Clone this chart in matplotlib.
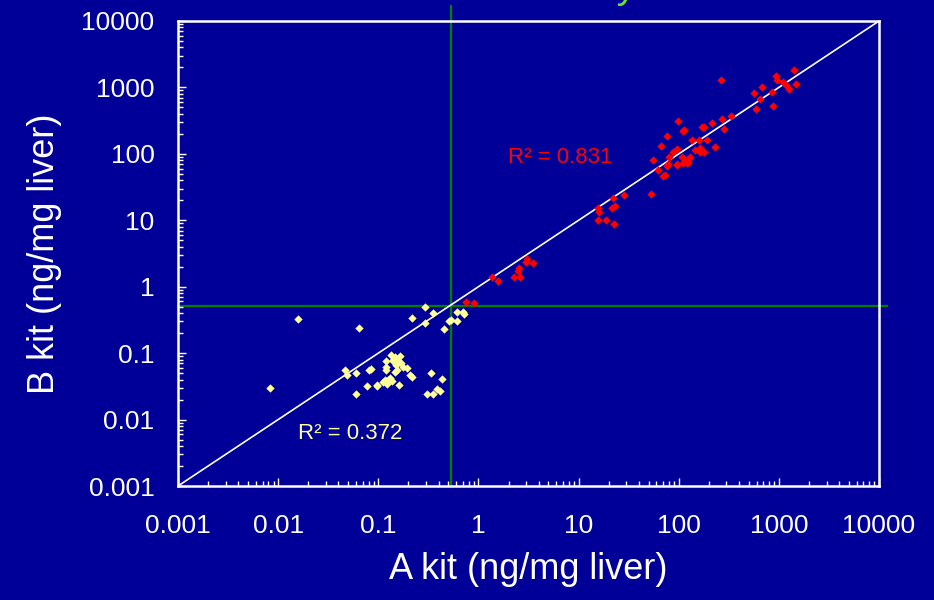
import matplotlib
matplotlib.use("Agg")
import matplotlib.pyplot as plt
from matplotlib.ticker import LogLocator, FixedLocator, FuncFormatter, NullFormatter
import numpy as np

plt.rcParams['font.family'] = ['Liberation Sans', 'DejaVu Sans']

# low range samples (yellow)
low_a = [0.0083, 0.0157, 0.064, 0.047, 0.049, 0.060, 0.060, 0.081, 0.084, 0.077, 0.096,
         0.119, 0.119, 0.119, 0.135, 0.147, 0.139, 0.158, 0.150, 0.170, 0.178, 0.193,
         0.153, 0.147, 0.117, 0.126, 0.131, 0.136, 0.096, 0.162, 0.216, 0.207, 0.165,
         0.112, 0.123, 0.141,
         0.333, 0.435, 0.309, 0.355, 0.39, 0.41, 0.216, 0.293, 0.293, 0.355, 0.453,
         0.513, 0.534, 0.615, 0.697, 0.723, 0.607]
low_b = [0.030, 0.323, 0.24, 0.056, 0.047, 0.050, 0.0245, 0.056, 0.058, 0.032, 0.032,
         0.076, 0.0625, 0.0557, 0.0937, 0.0886, 0.076, 0.076, 0.0664, 0.0703, 0.0625, 0.0593,
         0.0557, 0.0526, 0.0394, 0.0394, 0.0418, 0.0381, 0.0331, 0.0331, 0.0443, 0.0469, 0.0916,
         0.0372, 0.0343, 0.0789,
         0.05, 0.041, 0.0245, 0.0245, 0.0288, 0.027, 0.342, 0.49, 0.281, 0.398, 0.229,
         0.305, 0.32, 0.412, 0.421, 0.385, 0.308]

# high range samples (red)
high_a = [0.746, 0.904, 1.36, 1.58, 2.29, 2.54, 2.6, 2.5, 2.97, 3.03, 3.48,
          15.7, 16.1, 15.7, 18.7, 22.8, 21.4, 22.2, 23.1, 28.6, 52.5,
          55.8, 62.7, 69.2, 72.9, 66.5, 75.9, 75.9, 77.6, 80, 88.5, 95.5, 95.5, 99.1,
          111, 114, 107, 116, 125, 111, 120, 96.8, 130, 135, 146, 161, 163, 180, 163,
          172, 179, 190, 217, 230, 264, 272, 283, 333,
          569, 592, 675, 649, 849, 881, 937, 952, 1110, 1180, 1274, 1416, 1472]
high_b = [0.596, 0.575, 1.42, 1.22, 1.42, 1.89, 1.42, 1.73, 2.38, 2.59, 2.25,
          15.1, 13.5, 10.1, 10.1, 8.7, 15.1, 21.4, 16.6, 24.0, 24.9,
          80.9, 57.1, 46.5, 48.1, 133, 187, 65.6, 70.3, 90.6, 108, 117, 67.9, 315,
          221, 228, 90.6, 80.9, 76.2, 72.1, 72.1, 69.6, 90.6, 162, 114, 162, 108, 108, 121,
          256, 256, 162, 288, 126, 1294, 331, 234, 372,
          817, 469, 1004, 662, 863, 525, 1503, 1294, 1222, 1090, 946, 1829, 1114]

cutoff_a = 0.53
cutoff_b = 0.51
ticks = [0.001, 0.01, 0.1, 1, 10, 100, 1000, 10000]

bg = '#000099'
yellow = '#ffff99'
red = '#ff0000'

fig = plt.figure(figsize=(9.34, 6.0), dpi=100, facecolor=bg)
ax = fig.add_axes([178 / 934, 1 - 486 / 600, (879 - 178) / 934, (486 - 21) / 600])
ax.set_facecolor(bg)
ax.set_xscale('log')
ax.set_yscale('log')
ax.set_xlim(0.001, 10000)
ax.set_ylim(0.001, 10000)

ax.plot([0.001, 10000], [0.001, 10000], color='white', lw=1.2, zorder=2)
ax.plot([cutoff_a, cutoff_a], [0.001, 17000], color='#008000', lw=1.6, clip_on=False, zorder=1)
ax.plot([0.001, 12000], [cutoff_b, cutoff_b], color='#008000', lw=1.6, clip_on=False, zorder=1)

ax.scatter(low_a, low_b, marker='D', s=18, color=yellow, linewidths=0, zorder=3)
ax.scatter(high_a, high_b, marker='D', s=18, color=red, linewidths=0, zorder=3)

ax.text(0.0158, 0.0051, 'R² = 0.372', color=yellow, fontsize=16, va='baseline')
ax.text(1.97, 72.8, 'R² = 0.831', color=red, fontsize=16, va='baseline')

for sp in ax.spines.values():
    sp.set_color('white')
    sp.set_linewidth(1.8)

fmt = FuncFormatter(lambda v, p: '%g' % v)
for axis in (ax.xaxis, ax.yaxis):
    axis.set_major_locator(FixedLocator(ticks))
    axis.set_major_formatter(fmt)
    axis.set_minor_locator(LogLocator(base=10, subs=np.arange(2, 10), numticks=100))
    axis.set_minor_formatter(NullFormatter())

ax.tick_params(which='both', direction='in', colors='white', width=1)
ax.tick_params(which='major', length=6)
ax.tick_params(which='minor', length=3.5)
ax.tick_params(axis='x', which='major', labelsize=19, pad=20)
ax.tick_params(axis='y', which='major', labelsize=19, pad=17)

ax.set_xlabel('A kit (ng/mg liver)', color='white', fontsize=26, labelpad=10)
ax.set_ylabel('B kit (ng/mg liver)', color='white', fontsize=26, labelpad=14)

# title sits mostly above the canvas, only the tail of its last letter shows
fig.text(636 / 934, 1 + 2 / 600, 'Sensitivity', color='#66e633', fontsize=28,
         ha='right', va='baseline')

fig.savefig('out.png', dpi=100, facecolor=bg)
